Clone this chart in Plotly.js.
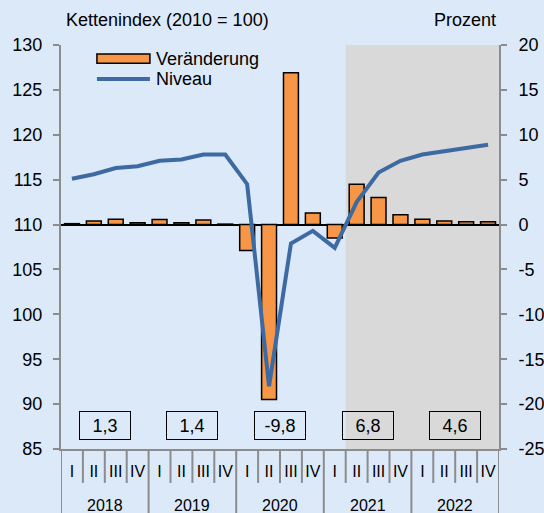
<!DOCTYPE html>
<html>
<head>
<meta charset="utf-8">
<script src="https://cdn.plot.ly/plotly-3.0.1.min.js"></script>
<style>html,body{margin:0;padding:0;background:#dce9f8;}</style>
</head>
<body>
<div id="chart" style="width:544px;height:513px;"></div>
<script>
// Data
const quarters = ["I","II","III","IV","I","II","III","IV","I","II","III","IV","I","II","III","IV","I","II","III","IV"];
const years = ["2018","2019","2020","2021","2022"];
const changePct = [0.1, 0.4, 0.6, 0.2, 0.55, 0.2, 0.5, 0.05, -2.9, -19.5, 16.9, 1.3, -1.5, 4.5, 3.0, 1.1, 0.6, 0.4, 0.3, 0.3];
const levelIndex = [115.1, 115.6, 116.3, 116.5, 117.1, 117.25, 117.8, 117.8, 114.5, 92.0, 107.9, 109.3, 107.4, 112.5, 115.8, 117.1, 117.8, 118.2, 118.6, 118.9];
const annualGrowth = [1.3, 1.4, -9.8, 6.8, 4.6];
const leftTicks = [85, 90, 95, 100, 105, 110, 115, 120, 125, 130];
const rightTicks = [-25, -20, -15, -10, -5, 0, 5, 10, 15, 20];
const forecastStart = 13; // index of first shaded quarter (2021 II)

const idx = quarters.map((q, i) => i);
const FONT = "Liberation Sans, Arial, sans-serif";
const GRAY = "#8c8c8c";
const fmt = v => v.toFixed(1).replace('.', ',');
const fmtTick = v => String(v);

const traces = [
  {
    type: 'bar', x: idx, y: changePct, yaxis: 'y', width: 0.68,
    marker: {color: '#f79646', line: {color: '#000000', width: 1.5}},
    name: 'Veränderung', hoverinfo: 'none'
  },
  {
    type: 'scatter', mode: 'lines', x: idx, y: levelIndex, yaxis: 'y2',
    line: {color: '#3d6aa2', width: 4}, name: 'Niveau', hoverinfo: 'none'
  }
];

const shapes = [];
shapes.push({type: 'rect', xref: 'x', yref: 'paper', x0: forecastStart - 0.5, x1: quarters.length - 0.5, y0: 0, y1: 1,
  fillcolor: '#d9d9d9', line: {width: 0}, layer: 'below'});
for (let k = 0; k <= quarters.length; k++) {
  const isYear = (k % 4 === 0);
  shapes.push({type: 'line', xref: 'x', yref: 'paper', x0: k - 0.5, x1: k - 0.5, y0: 0, y1: isYear ? -0.16 : -0.084,
    line: {color: GRAY, width: 2}, layer: 'above'});
}
// custom legend
shapes.push({type: 'rect', xref: 'paper', yref: 'paper', x0: 0.082, x1: 0.203, y0: 0.955, y1: 0.978,
  fillcolor: '#f79646', line: {color: '#000', width: 1.5}});
shapes.push({type: 'line', xref: 'paper', yref: 'paper', x0: 0.082, x1: 0.203, y0: 0.916, y1: 0.916,
  line: {color: '#3d6aa2', width: 4}});

const annotations = [];
years.forEach((yr, i) => {
  annotations.push({xref: 'x', yref: 'paper', x: i * 4 + 1.5, y: -0.139, text: yr, showarrow: false,
    xanchor: 'center', yanchor: 'middle', font: {family: FONT, size: 16, color: '#000'}});
  annotations.push({xref: 'x', yref: 'paper', x: i * 4 + 1.5, y: 0.058, text: fmt(annualGrowth[i]), showarrow: false,
    xanchor: 'center', yanchor: 'middle', width: 48, height: 25, borderpad: 1, borderwidth: 1, bordercolor: '#000',
    font: {family: FONT, size: 18, color: '#000'}});
});
annotations.push({xref: 'paper', yref: 'paper', x: 0.007, y: 1.062, text: 'Kettenindex (2010 = 100)', showarrow: false,
  xanchor: 'left', yanchor: 'middle', font: {family: FONT, size: 18, color: '#000'}});
annotations.push({xref: 'paper', yref: 'paper', x: 0.997, y: 1.062, text: 'Prozent', showarrow: false,
  xanchor: 'right', yanchor: 'middle', font: {family: FONT, size: 18, color: '#000'}});
annotations.push({xref: 'paper', yref: 'paper', x: 0.212, y: 0.966, text: 'Veränderung', showarrow: false,
  xanchor: 'left', yanchor: 'middle', font: {family: FONT, size: 18, color: '#000'}});
annotations.push({xref: 'paper', yref: 'paper', x: 0.212, y: 0.916, text: 'Niveau', showarrow: false,
  xanchor: 'left', yanchor: 'middle', font: {family: FONT, size: 18, color: '#000'}});

const layout = {
  width: 544, height: 513,
  margin: {l: 61, r: 45, t: 45, b: 64, pad: 0},
  paper_bgcolor: '#dce9f8', plot_bgcolor: '#dce9f8',
  showlegend: false,
  font: {family: FONT, size: 18, color: '#000'},
  xaxis: {
    range: [-0.5, quarters.length - 0.5], tickmode: 'array', tickvals: idx, ticktext: quarters,
    ticks: '', showgrid: false, zeroline: false, showline: true, linecolor: GRAY, linewidth: 2,
    tickfont: {family: FONT, size: 16, color: '#000'}, ticklabelstandoff: 7, fixedrange: true
  },
  yaxis: {
    range: [-25, 20], side: 'right', tickmode: 'array', tickvals: rightTicks, ticktext: rightTicks.map(fmtTick),
    ticks: 'outside', ticklen: 6, tickwidth: 2, tickcolor: GRAY, showline: true, linecolor: GRAY, linewidth: 2,
    showgrid: false, zeroline: true, zerolinecolor: '#000', zerolinewidth: 2,
    tickfont: {family: FONT, size: 18, color: '#000'}, ticklabelstandoff: 8
  },
  yaxis2: {
    range: [85, 130], overlaying: 'y', side: 'left', tickmode: 'array', tickvals: leftTicks, ticktext: leftTicks.map(fmtTick),
    ticks: 'outside', ticklen: 6, tickwidth: 2, tickcolor: GRAY, showline: true, linecolor: GRAY, linewidth: 2,
    showgrid: false, zeroline: false,
    tickfont: {family: FONT, size: 18, color: '#000'}, ticklabelstandoff: 7
  },
  shapes: shapes,
  annotations: annotations
};

Plotly.newPlot('chart', traces, layout, {displayModeBar: false, staticPlot: true});
</script>
</body>
</html>
